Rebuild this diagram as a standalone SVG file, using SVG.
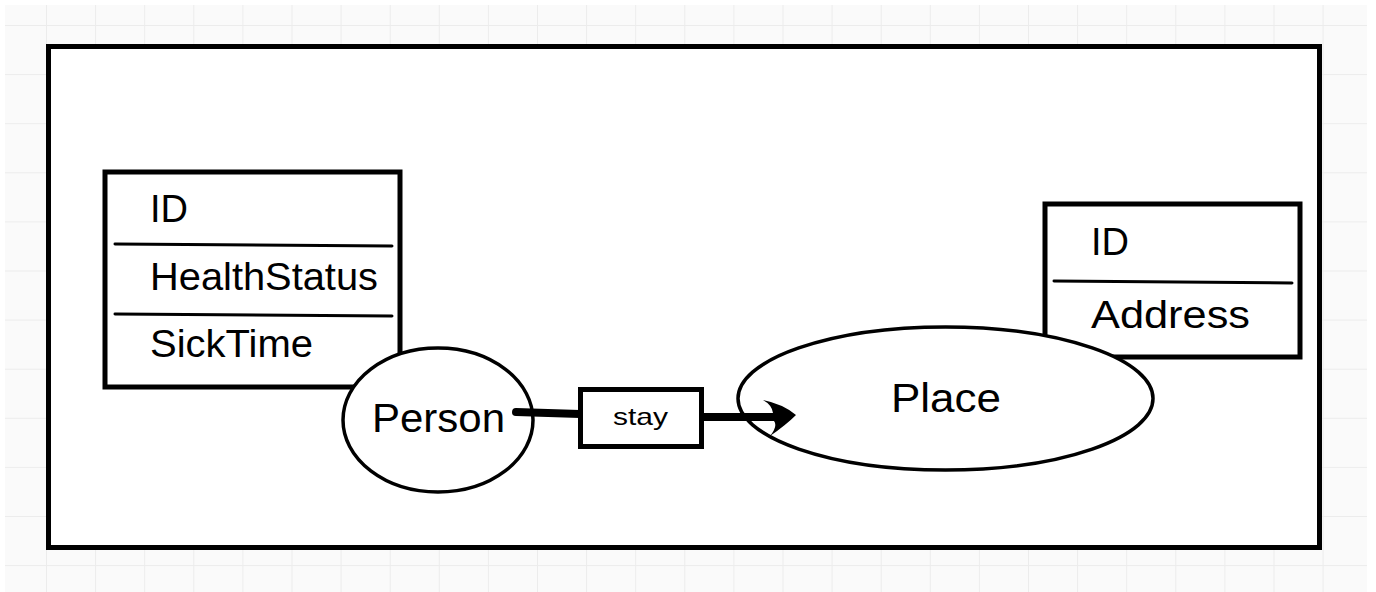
<svg xmlns="http://www.w3.org/2000/svg" width="1376" height="592" viewBox="0 0 1376 592">
<style>
.box{fill:#fff;stroke:#000;stroke-width:5}
.div{stroke:#000;stroke-width:3;stroke-linecap:round}
.ell{fill:#fff;stroke:#000;stroke-width:3.5}
.t{font-family:"Liberation Sans",Arial,sans-serif;fill:#000}
.big{font-size:38px}
.name{font-size:40px}
.small{font-size:24px}
.conn{stroke:#000;stroke-width:8;fill:none}
</style>
<defs>
<pattern id="grid" x="46" y="25" width="49.1" height="49.1" patternUnits="userSpaceOnUse">
<path d="M0 0 V49.1 M0 0 H49.1" stroke="#ececec" stroke-width="2" fill="none"/>
</pattern>
</defs>
<rect x="0" y="0" width="1376" height="592" fill="#fff"/>
<rect x="5" y="5" width="1362" height="587" fill="#fafafa"/>
<rect x="5" y="5" width="1362" height="587" fill="url(#grid)"/>
<rect id="frame" x="48.5" y="46.5" width="1271" height="501" fill="#fff" stroke="#000" stroke-width="5"/>
<g id="personAttrs">
<rect class="box" x="105" y="172" width="295" height="215"/>
<line class="div" x1="115" y1="244" x2="392" y2="246"/>
<line class="div" x1="115" y1="314" x2="392" y2="316"/>
<text class="t big" x="150" y="222">ID</text>
<text class="t big" x="150" y="290" textLength="228" lengthAdjust="spacingAndGlyphs">HealthStatus</text>
<text class="t big" x="150" y="357" textLength="163" lengthAdjust="spacingAndGlyphs">SickTime</text>
</g>
<g id="placeAttrs">
<rect class="box" x="1045" y="204" width="255" height="153"/>
<line class="div" x1="1054" y1="281" x2="1292" y2="283"/>
<text class="t big" x="1091" y="255">ID</text>
<text class="t big" x="1091" y="328" textLength="159" lengthAdjust="spacingAndGlyphs">Address</text>
</g>
<g id="person">
<ellipse class="ell" cx="438" cy="420" rx="95" ry="72"/>
<text class="t name" x="372" y="432" textLength="133" lengthAdjust="spacingAndGlyphs">Person</text>
</g>
<g id="place">
<ellipse class="ell" cx="945.5" cy="398.5" rx="207.5" ry="71.5"/>
<text class="t name" x="891" y="412" textLength="110" lengthAdjust="spacingAndGlyphs">Place</text>
</g>
<g id="connectors">
<path class="conn" d="M516 412 L580 414" stroke-linecap="round"/>
<path class="conn" d="M703 417 L775 417"/>
<path d="M763 400 Q783 404 796 415 Q786 425 770 436 Q778 426 774 421 L760 421 L760 413 L773 413 Q772 405 763 400 Z" fill="#000"/>
</g>
<g id="stay">
<rect class="box" x="580.5" y="389.5" width="121" height="57"/>
<text class="t small" x="613" y="425" textLength="55" lengthAdjust="spacingAndGlyphs">stay</text>
</g>
</svg>
